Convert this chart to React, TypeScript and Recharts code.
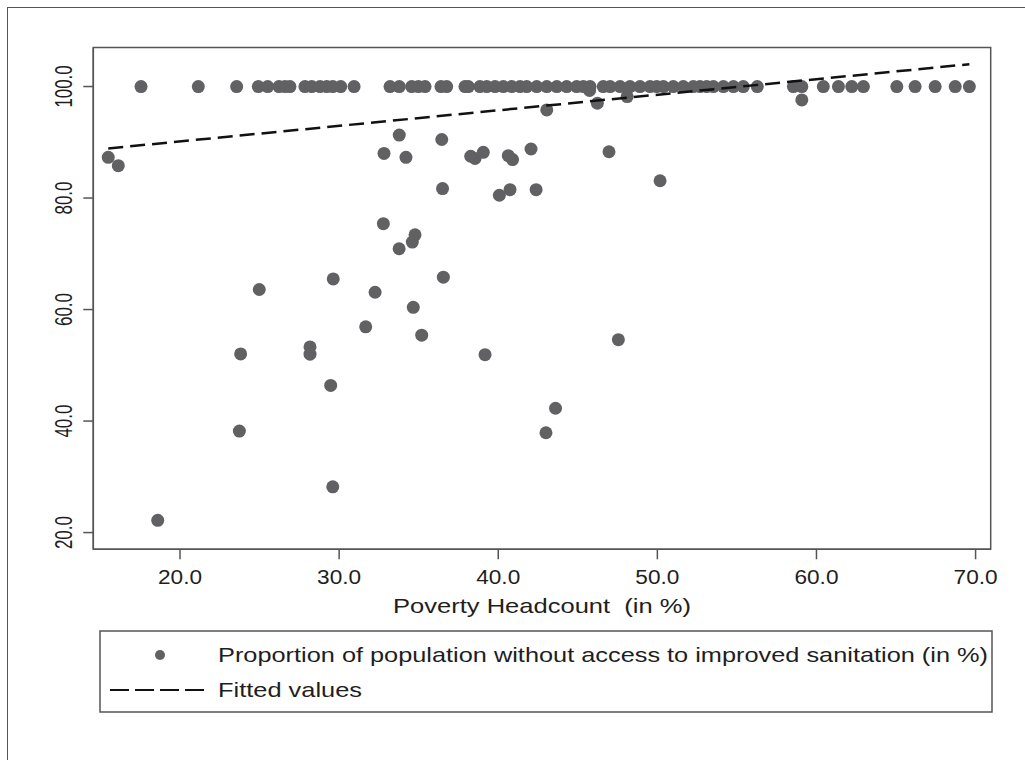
import React from "react";
import {
  ScatterChart,
  Scatter,
  XAxis,
  YAxis,
  ReferenceArea,
} from "recharts";

// poverty headcount (x) and share without improved sanitation (y), one entry per district
const headcount = [
  15.49, 16.12, 18.6, 23.73, 23.81, 24.98, 28.17, 28.17, 29.47, 29.6, 29.63,
  31.67, 32.26, 32.78, 32.82, 33.77, 33.78, 34.2, 34.6, 34.77, 34.66, 35.19,
  36.45, 36.5, 36.55, 38.27, 38.54, 39.06, 39.17, 40.07, 40.63, 40.74, 40.9,
  42.06, 42.38, 43.0, 43.05, 43.6, 45.74, 46.23, 46.96, 47.55, 48.1, 50.17,
  59.08,
  17.55, 21.15, 23.56, 24.92, 25.51, 26.22, 26.6, 26.91, 27.85, 28.28, 28.8,
  29.22, 29.6, 30.1, 30.94, 33.2, 33.78, 34.56, 34.98, 35.4, 36.4, 36.76,
  37.91, 38.12, 38.85, 39.28, 39.8, 40.32, 40.85, 41.37, 41.79, 42.42, 43.05,
  43.68, 44.3, 44.93, 45.35, 45.77, 46.6, 47.03, 47.66, 48.28, 48.91, 49.54,
  49.96, 50.38, 51.0, 51.63, 52.26, 52.68, 53.1, 53.52, 54.15, 54.78, 55.4,
  56.28, 58.55, 59.08, 60.43, 61.38, 62.22, 62.95, 65.05, 66.2, 67.46, 68.72,
  69.61,
];

const noSanitation = [
  87.3, 85.8, 22.2, 38.2, 52.05, 63.6, 53.3, 52.0, 46.4, 28.2, 65.5,
  56.9, 63.1, 75.4, 88.0, 70.9, 91.3, 87.3, 72.1, 73.4, 60.4, 55.4,
  90.5, 81.7, 65.8, 87.5, 87.1, 88.2, 51.9, 80.5, 87.6, 81.5, 86.9,
  88.8, 81.5, 37.9, 95.8, 42.3, 99.3, 97.0, 88.3, 54.6, 98.2, 83.1,
  97.6,
  100, 100, 100, 100, 100, 100, 100, 100, 100, 100, 100,
  100, 100, 100, 100, 100, 100, 100, 100, 100, 100, 100,
  100, 100, 100, 100, 100, 100, 100, 100, 100, 100, 100,
  100, 100, 100, 100, 100, 100, 100, 100, 100, 100, 100,
  100, 100, 100, 100, 100, 100, 100, 100, 100, 100, 100,
  100, 100, 100, 100, 100, 100, 100, 100, 100, 100, 100,
  100,
];

// ends of the fitted regression line
const fitX = [15.49, 69.61];
const fitY = [88.9, 104.0];

const xTicks = [20, 30, 40, 50, 60, 70];
const yTicks = [20, 40, 60, 80, 100];
const xDomain = [14.55, 70.95];
const yDomain = [17, 107];

const X_TITLE = "Poverty Headcount  (in %)";
const SERIES_NAME =
  "Proportion of population without access to improved sanitation (in %)";
const FIT_NAME = "Fitted values";

const points = headcount.map((x, i) => ({ x, y: noSanitation[i] }));
const fitLine = fitX.map((x, i) => ({ x, y: fitY[i] }));

const FRAME = "#555";
const DOT = "#616163";
const TEXT = "#1e1e1e";
const FONT = "'Liberation Sans', Arial, sans-serif";

const XTick = (props: any) => {
  const { x, y, payload } = props;
  return (
    <text
      x={x}
      y={y + 23}
      textAnchor="middle"
      fontFamily={FONT}
      fontSize={20}
      fill={TEXT}
      textLength={44}
      lengthAdjust="spacingAndGlyphs"
    >
      {payload.value.toFixed(1)}
    </text>
  );
};

const YTick = (props: any) => {
  const { x, y, payload } = props;
  const label = payload.value.toFixed(1);
  return (
    <text
      transform={`translate(${x - 9},${y}) rotate(-90)`}
      textAnchor="middle"
      fontFamily={FONT}
      fontSize={23}
      fill={TEXT}
      textLength={label.length > 4 ? 42 : 33}
      lengthAdjust="spacingAndGlyphs"
    >
      {label}
    </text>
  );
};

const XTitle = (props: any) => {
  const { x, y, width } = props.viewBox;
  return (
    <text
      x={x + width / 2}
      y={y + 64}
      textAnchor="middle"
      fontFamily={FONT}
      fontSize={21}
      fill={TEXT}
      textLength={298}
      lengthAdjust="spacingAndGlyphs"
      style={{ whiteSpace: "pre" }}
    >
      {X_TITLE}
    </text>
  );
};

const Dot = (props: any) => (
  <circle cx={props.cx} cy={props.cy} r={6.5} fill={DOT} />
);

const LegendBox = () => (
  <svg
    width={896}
    height={85}
    style={{ position: "absolute", left: 98, top: 629 }}
  >
    <rect x={2} y={2} width={892} height={81} fill="none" stroke={FRAME} strokeWidth={1.5} />
    <circle cx={62} cy={26} r={5} fill={DOT} />
    <text
      x={120}
      y={33}
      fontFamily={FONT}
      fontSize={21}
      fill={TEXT}
      textLength={770}
      lengthAdjust="spacingAndGlyphs"
    >
      {SERIES_NAME}
    </text>
    <line x1={12} y1={61} x2={107} y2={61} stroke="#111" strokeWidth={2} strokeDasharray="19 6" />
    <text
      x={120}
      y={68}
      fontFamily={FONT}
      fontSize={21}
      fill={TEXT}
      textLength={144}
      lengthAdjust="spacingAndGlyphs"
    >
      {FIT_NAME}
    </text>
  </svg>
);

export default function App() {
  return (
    <div
      style={{
        position: "absolute",
        left: 0,
        top: 0,
        width: 1025,
        height: 760,
        overflow: "hidden",
        background: "#fff",
      }}
    >
      <div
        style={{
          position: "absolute",
          left: 7,
          top: 7,
          width: 1100,
          height: 800,
          borderLeft: `1.5px solid ${FRAME}`,
          borderTop: `1.5px solid ${FRAME}`,
        }}
      />
      <ScatterChart
        width={1025}
        height={760}
        margin={{ top: 47.5, right: 34.3, bottom: 180.7, left: 33.3 }}
        style={{ position: "absolute", left: 0, top: 0 }}
      >
        <XAxis
          type="number"
          dataKey="x"
          domain={xDomain}
          ticks={xTicks}
          allowDataOverflow
          height={30}
          tickSize={10}
          tickMargin={2}
          axisLine={{ stroke: FRAME, strokeWidth: 1.5 }}
          tickLine={{ stroke: FRAME, strokeWidth: 1.5 }}
          tick={<XTick />}
          label={<XTitle />}
        />
        <YAxis
          type="number"
          dataKey="y"
          domain={yDomain}
          ticks={yTicks}
          allowDataOverflow
          width={60}
          tickSize={10}
          tickMargin={2}
          axisLine={{ stroke: FRAME, strokeWidth: 1.5 }}
          tickLine={{ stroke: FRAME, strokeWidth: 1.5 }}
          tick={<YTick />}
        />
        <ReferenceArea
          x1={xDomain[0]}
          x2={xDomain[1]}
          y1={yDomain[0]}
          y2={yDomain[1]}
          fill="none"
          stroke={FRAME}
          strokeWidth={1.5}
        />
        <Scatter
          name={SERIES_NAME}
          data={points}
          shape={<Dot />}
          isAnimationActive={false}
        />
        <Scatter
          name={FIT_NAME}
          data={fitLine}
          line={{ stroke: "#111", strokeWidth: 2.5, strokeDasharray: "15 7" }}
          shape={() => <g />}
          isAnimationActive={false}
        />
      </ScatterChart>
      <LegendBox />
    </div>
  );
}
